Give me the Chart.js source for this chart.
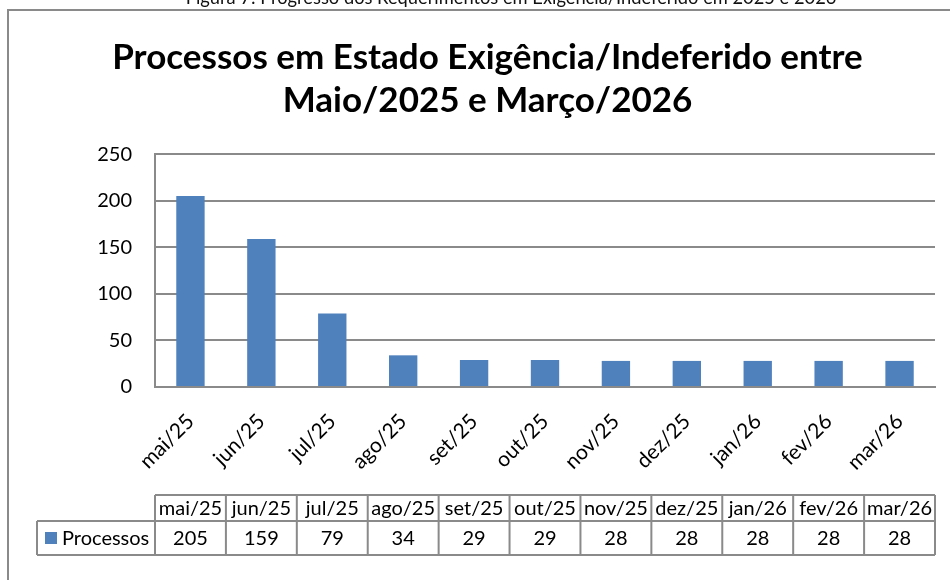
<!DOCTYPE html>
<html>
<head>
<meta charset="utf-8">
<script src="https://cdn.jsdelivr.net/npm/chart.js@4.4.1/dist/chart.umd.min.js"></script>
<style>
  html, body { margin: 0; padding: 0; background: #ffffff; }
  #wrap { width: 950px; height: 580px; position: relative; }
</style>
</head>
<body>
<div id="wrap"><canvas id="c" width="950" height="580"></canvas></div>
<script>
// ---- Data ----
const categories = ['mai/25', 'jun/25', 'jul/25', 'ago/25', 'set/25', 'out/25', 'nov/25', 'dez/25', 'jan/26', 'fev/26', 'mar/26'];
const processos = [205, 159, 79, 34, 29, 29, 28, 28, 28, 28, 28];
const seriesName = 'Processos';
const yTickValues = [0, 50, 100, 150, 200, 250];
const chartTitle = ['Processos em Estado Exigência/Indeferido entre', 'Maio/2025 e Março/2026'];
const figureCaption = 'Figura 7: Progresso dos Requerimentos em Exigência/Indeferido em 2025 e 2026';

// ---- Styles ----
const FONT = 'Lato, "Open Sans", "DejaVu Sans", sans-serif';
const BAR_COLOR = '#4F81BD';
const GRID_COLOR = '#8a8a8a';

const framePlugin = {
  id: 'frame',
  beforeDraw(chart) {
    const ctx = chart.ctx;
    ctx.save();
    ctx.fillStyle = '#ffffff';
    ctx.fillRect(0, 0, chart.width, chart.height);
    // outer chart border (extends past right/bottom edges)
    ctx.strokeStyle = GRID_COLOR;
    ctx.lineWidth = 2;
    ctx.beginPath();
    ctx.moveTo(8, chart.height + 5);
    ctx.lineTo(8, 10);
    ctx.lineTo(chart.width + 5, 10);
    ctx.stroke();
    // cut-off figure caption at the very top
    ctx.fillStyle = '#111111';
    ctx.font = '18.3px ' + FONT;
    ctx.textAlign = 'center';
    ctx.textBaseline = 'alphabetic';
    ctx.fillText(figureCaption, 511, 4);
    ctx.restore();
  }
};

const dataTablePlugin = {
  id: 'dataTable',
  afterDraw(chart) {
    const ctx = chart.ctx;
    const xs = chart.scales.x;
    const n = categories.length;
    const step = (xs.right - xs.left) / n;
    const top = 495, mid = 521, bottom = 555, legendLeft = 37;
    ctx.save();
    ctx.strokeStyle = GRID_COLOR;
    ctx.lineWidth = 2;
    ctx.beginPath();
    ctx.moveTo(xs.left, top); ctx.lineTo(xs.right, top);
    ctx.moveTo(legendLeft, mid); ctx.lineTo(xs.right, mid);
    ctx.moveTo(legendLeft, bottom); ctx.lineTo(xs.right, bottom);
    ctx.moveTo(legendLeft, mid); ctx.lineTo(legendLeft, bottom);
    for (let i = 0; i <= n; i++) {
      const x = xs.left + i * step;
      ctx.moveTo(x, top); ctx.lineTo(x, bottom);
    }
    ctx.stroke();
    ctx.fillStyle = '#000000';
    ctx.font = '20px ' + FONT;
    ctx.textAlign = 'center';
    ctx.textBaseline = 'middle';
    for (let i = 0; i < n; i++) {
      const cx = xs.getPixelForValue(i);
      ctx.fillText(categories[i], cx, (top + mid) / 2 + 1);
      ctx.fillText(String(chart.data.datasets[0].data[i]), cx, (mid + bottom) / 2 + 1);
    }
    ctx.fillStyle = BAR_COLOR;
    ctx.fillRect(45, 532, 12, 12);
    ctx.fillStyle = '#000000';
    ctx.textAlign = 'left';
    ctx.fillText(seriesName, 62, (mid + bottom) / 2 + 1);
    ctx.restore();
  }
};

new Chart(document.getElementById('c'), {
  type: 'bar',
  data: {
    labels: categories,
    datasets: [{
      label: seriesName,
      data: processos,
      backgroundColor: BAR_COLOR,
      borderWidth: 0,
      barPercentage: 0.4,
      categoryPercentage: 1.0
    }]
  },
  options: {
    responsive: false,
    animation: false,
    devicePixelRatio: 1,
    layout: { padding: { top: 0, left: 40, right: 15, bottom: 0 } },
    plugins: {
      legend: { display: false },
      tooltip: { enabled: false },
      title: {
        display: true,
        text: chartTitle,
        color: '#000000',
        font: { family: FONT, size: 35, weight: 'bold', lineHeight: 1.23 },
        padding: { top: 36, bottom: 32 }
      }
    },
    scales: {
      x: {
        afterFit(s) { s.height = 193; },
        grid: { display: false },
        border: { display: true, color: GRID_COLOR, width: 2 },
        ticks: {
          color: '#000000',
          font: { family: FONT, size: 21 },
          maxRotation: 45,
          minRotation: 45,
          padding: 14,
          autoSkip: false
        }
      },
      y: {
        min: 0,
        max: 250,
        afterFit(s) { s.width = 115; },
        afterBuildTicks(s) { s.ticks = yTickValues.map(v => ({ value: v })); },
        grid: { color: GRID_COLOR, lineWidth: 2, drawTicks: false },
        border: { display: true, color: GRID_COLOR, width: 2 },
        ticks: {
          color: '#000000',
          font: { family: FONT, size: 20 },
          padding: 23
        }
      }
    }
  },
  plugins: [framePlugin, dataTablePlugin]
});
</script>
</body>
</html>
